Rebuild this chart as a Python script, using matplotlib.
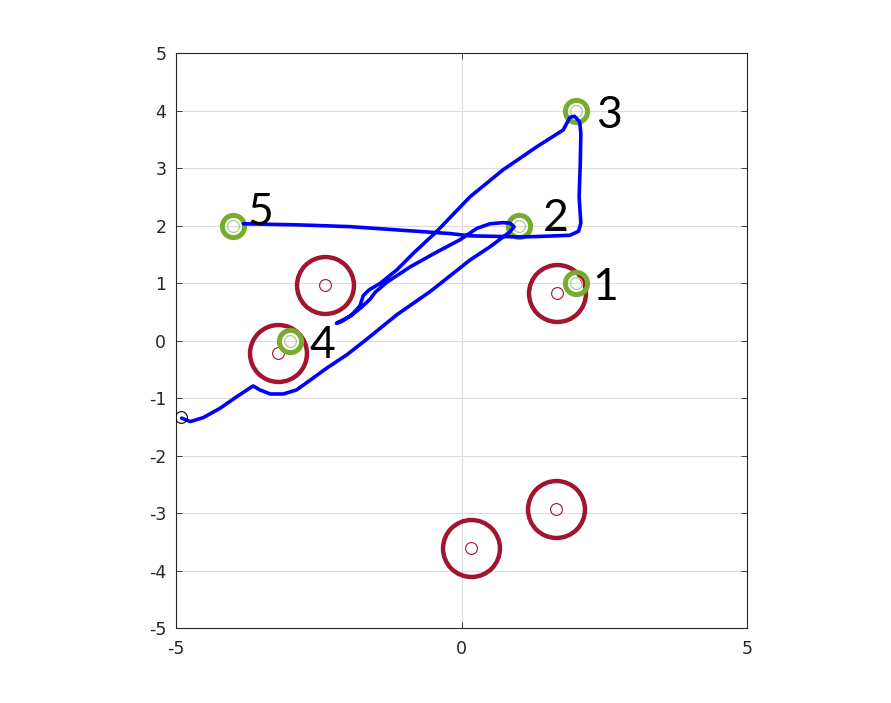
import numpy as np
from matplotlib import pyplot as plt

plt.rcParams["axes.unicode_minus"] = False

# robot trajectory
path_x = [-4.90, -4.75, -4.52, -4.23, -3.94, -3.65, -3.53, -3.35, -3.12, -2.89,
          -2.65, -2.36, -2.01, -1.65, -1.13, -0.55, 0.15, 0.50, 0.85, 0.92,
          0.85, 0.73, 0.50, 0.27, -0.03, -0.43, -0.90, -1.02, -1.30, -1.51,
          -1.60, -1.75, -1.95, -2.19, -2.10, -1.92, -1.78, -1.72, -1.62, -1.43,
          -1.13, -0.84, -0.43, 0.15, 0.73, 1.32, 1.78, 1.90, 1.98, 2.07,
          2.09, 2.08, 2.06, 2.09, 2.05, 1.90, 1.37, 1.02, 0.67, 0.15,
          -0.20, -1.08, -1.95, -2.83, -3.82]
path_y = [-1.35, -1.41, -1.34, -1.18, -0.98, -0.79, -0.86, -0.93, -0.93, -0.86,
          -0.69, -0.48, -0.25, 0.03, 0.45, 0.85, 1.40, 1.63, 1.89, 1.98,
          2.04, 2.05, 2.03, 1.95, 1.75, 1.54, 1.28, 1.20, 1.02, 0.84,
          0.72, 0.58, 0.42, 0.30, 0.33, 0.45, 0.60, 0.78, 0.88, 0.99,
          1.23, 1.52, 1.90, 2.50, 2.97, 3.37, 3.66, 3.88, 3.90, 3.80,
          3.60, 3.08, 2.50, 2.04, 1.90, 1.83, 1.81, 1.80, 1.81, 1.82,
          1.86, 1.92, 1.98, 2.01, 2.03]

start_x, start_y = -4.92, -1.33

# waypoints
wp_x = [2, 1, 2, -3, -4]
wp_y = [1, 2, 4, 0, 2]
wp_labels = ["1", "2", "3", "4", "5"]
# label offsets from each waypoint
lbl_dx = [0.30, 0.42, 0.35, 0.33, 0.26]
lbl_dy = [-0.08, 0.13, -0.08, -0.08, 0.23]

# obstacles
obs_x = [-2.39, 1.67, -3.21, 1.65, 0.17]
obs_y = [0.97, 0.83, -0.22, -2.93, -3.61]

red = "#A2142F"
green = "#77AC30"
light_green = "#A9CF86"

fig = plt.figure(figsize=(8.91, 7.03), dpi=100)
ax = fig.add_axes([176 / 891, 1 - 628 / 703, 571 / 891, 575 / 703])

# obstacles: big ring + small centre circle
ax.plot(obs_x, obs_y, "o", ms=41, mfc="none", mec=red, mew=3.2, zorder=2)
ax.plot(obs_x, obs_y, "o", ms=8.5, mfc="none", mec=red, mew=0.8, zorder=2)

# waypoints
ax.plot(wp_x, wp_y, "o", ms=16, mfc="none", mec=green, mew=3.6, zorder=3)
ax.plot(wp_x, wp_y, "o", ms=8.5, mfc="none", mec=light_green, mew=0.9, zorder=3)
for i in range(len(wp_x)):
    ax.text(wp_x[i] + lbl_dx[i], wp_y[i] + lbl_dy[i], wp_labels[i],
            fontsize=32, family="Lato", ha="left", va="center", zorder=5)

# trajectory
ax.plot(path_x, path_y, "-", color="#0000FF", lw=2.6, solid_capstyle="round",
        solid_joinstyle="round", zorder=4)
ax.plot([start_x], [start_y], "o", ms=8.5, mfc="none", mec="k", mew=0.8, zorder=5)

ax.set_xlim(-5, 5)
ax.set_ylim(-5, 5)
ax.set_xticks([-5, 0, 5])
ax.set_yticks(np.arange(-5, 6, 1))
ax.grid(True, color="#DCDCDC", lw=0.8)
ax.set_axisbelow(True)
ax.tick_params(direction="in", length=4, width=0.6, colors="#262626",
               labelsize=12.5, pad=7, top=True, right=True)
ax.tick_params(axis="x", pad=9)
for s in ax.spines.values():
    s.set_color("#262626")
    s.set_linewidth(0.8)

plt.savefig("out.png", dpi=100)
